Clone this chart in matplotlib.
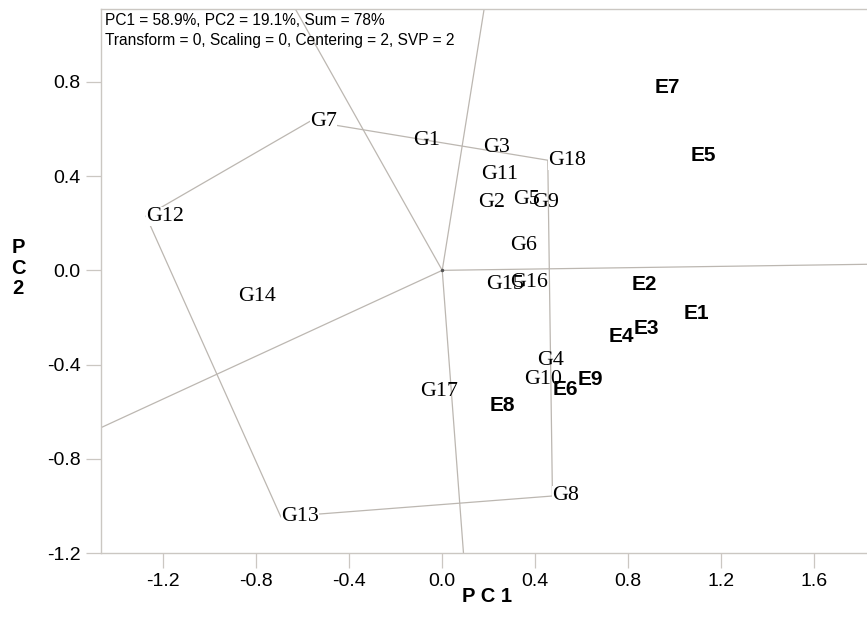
import numpy as np
import matplotlib
matplotlib.use("Agg")
import matplotlib.pyplot as plt

# Genotype scores (PC1, PC2)
genotypes = ["G1", "G2", "G3", "G4", "G5", "G6", "G7", "G8", "G9", "G10",
             "G11", "G12", "G13", "G14", "G15", "G16", "G17", "G18"]
g_pc1 = [-0.126, 0.155, 0.175, 0.406, 0.305, 0.294, -0.567, 0.474, 0.385, 0.351,
         0.168, -1.274, -0.694, -0.877, 0.190, 0.291, -0.096, 0.454]
g_pc2 = [0.552, 0.287, 0.519, -0.383, 0.301, 0.107, 0.633, -0.957, 0.287, -0.465,
         0.408, 0.230, -1.046, -0.112, -0.062, -0.053, -0.515, 0.467]

# Environment scores (PC1, PC2)
environments = ["E1", "E2", "E3", "E4", "E5", "E6", "E7", "E8", "E9"]
e_pc1 = [1.037, 0.814, 0.825, 0.714, 1.067, 0.475, 0.915, 0.202, 0.582]
e_pc2 = [-0.182, -0.062, -0.246, -0.282, 0.489, -0.505, 0.775, -0.575, -0.462]

# Convex hull of the genotypes, in drawing order
hull = ["G7", "G18", "G8", "G13", "G12"]

x_ticks = [-1.2, -0.8, -0.4, 0.0, 0.4, 0.8, 1.2, 1.6]
y_ticks = [-1.2, -0.8, -0.4, 0.0, 0.4, 0.8]

header = ["PC1 = 58.9%, PC2 = 19.1%, Sum = 78%",
          "Transform = 0, Scaling = 0, Centering = 2, SVP = 2"]

line_col = "#bcb7b1"
spine_col = "#cbc7c2"

fig = plt.figure(figsize=(8.67, 6.34), dpi=100)
ax = fig.add_axes([100.7 / 867, 1 - 553.3 / 634, 1 - 100.7 / 867, (553.3 - 9.3) / 634])
ax.set_xlim(-1.469, 1.827)
ax.set_ylim(-1.2, 1.107)

pos = {g: (x, y) for g, x, y in zip(genotypes, g_pc1, g_pc2)}

# Polygon sides
pts = np.array([pos[g] for g in hull] + [pos[hull[0]]])
ax.plot(pts[:, 0], pts[:, 1], color=line_col, lw=0.9, zorder=1, solid_capstyle="butt")

# Rays from the origin perpendicular to each polygon side
for i in range(len(hull)):
    a = np.array(pos[hull[i]])
    b = np.array(pos[hull[(i + 1) % len(hull)]])
    d = b - a
    n = np.array([d[1], -d[0]])
    # choose the normal pointing away from the origin side of the edge
    if np.dot(n, a) < 0:
        n = -n
    n = n / np.linalg.norm(n)
    ax.plot([0, n[0] * 10], [0, n[1] * 10], color=line_col, lw=0.9, zorder=1)

ax.plot([0], [0], marker="o", ms=1.5, color="#555555", zorder=2)

# Genotype labels (hull vertices masked so sides stop at the label)
for g, x, y in zip(genotypes, g_pc1, g_pc2):
    kw = {}
    if g in hull:
        kw["bbox"] = dict(facecolor="white", edgecolor="none", pad=0.0)
    ax.text(x, y, g, ha="left", va="center", fontsize=15.8,
            family="Liberation Serif", color="black", zorder=3, **kw)

# Environment labels
for e, x, y in zip(environments, e_pc1, e_pc2):
    ax.text(x, y, e, ha="left", va="center", fontsize=15, fontweight="bold",
            family="Liberation Sans", color="black", zorder=4)

ax.set_xticks(x_ticks)
ax.set_yticks(y_ticks)
ax.set_xticklabels([f"{v:.1f}" for v in x_ticks])
ax.set_yticklabels([f"{v:.1f}" for v in y_ticks])
ax.tick_params(direction="out", length=10.5, width=0.9, color=spine_col,
               labelsize=14, pad=4)
for lab in ax.get_xticklabels() + ax.get_yticklabels():
    lab.set_family("Liberation Sans")

ax.spines["right"].set_visible(False)
for s in ["left", "top", "bottom"]:
    ax.spines[s].set_color(spine_col)
    ax.spines[s].set_linewidth(1.0)

for i, t in enumerate(header):
    fig.text(105 / 867, 1 - (20.7 + 20 * i) / 634, t, ha="left", va="center",
             fontsize=11.2, family="Liberation Sans", color="black")

fig.text(487 / 867, 1 - 597 / 634, "P C 1", ha="center", va="center",
         fontsize=14.5, fontweight="bold", family="Liberation Sans")
fig.text(18 / 867, 1 - 268 / 634, "P\nC\n2", ha="center", va="center",
         fontsize=14.5, fontweight="bold", family="Liberation Sans", linespacing=1.1)

fig.savefig("out.png", dpi=100)
